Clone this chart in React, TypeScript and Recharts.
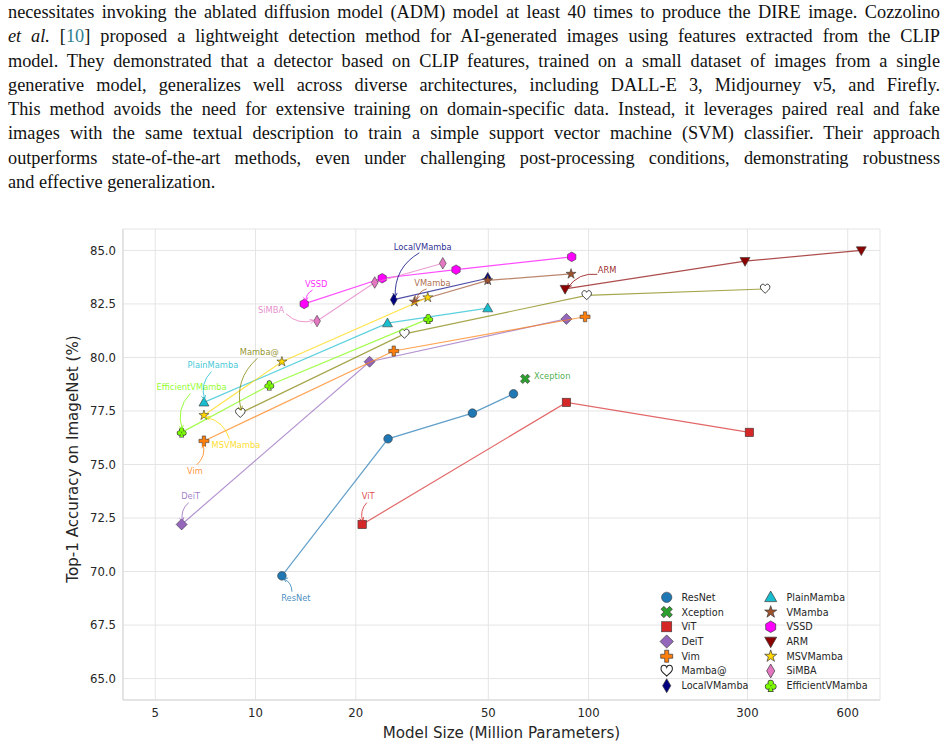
import { CartesianGrid, Label, Scatter, ScatterChart, XAxis, YAxis } from 'recharts'

const TEXT_LINES = [
  'necessitates invoking the ablated diffusion model (ADM) model at least 40 times to produce the DIRE image. Cozzolino',
  '@@ proposed a lightweight detection method for AI-generated images using features extracted from the CLIP',
  'model. They demonstrated that a detector based on CLIP features, trained on a small dataset of images from a single',
  'generative model, generalizes well across diverse architectures, including DALL-E 3, Midjourney v5, and Firefly.',
  'This method avoids the need for extensive training on domain-specific data. Instead, it leverages paired real and fake',
  'images with the same textual description to train a simple support vector machine (SVM) classifier. Their approach',
  'outperforms state-of-the-art methods, even under challenging post-processing conditions, demonstrating robustness',
  'and effective generalization.',
]

const X_TICKS = [5, 10, 20, 50, 100, 300, 600]
const Y_TICKS = [65, 67.5, 70, 72.5, 75, 77.5, 80, 82.5, 85]

// model size (M params) / top-1 accuracy (%)
const resnetSize = [12.0, 25.0, 44.8, 59.5]
const resnetAcc = [69.8, 76.2, 77.4, 78.3]
const xceptionSize = [64.5]
const xceptionAcc = [79.0]
const vitSize = [20.9, 85.8, 304]
const vitAcc = [72.2, 77.9, 76.5]
const deitSize = [6.0, 22.0, 85.8]
const deitAcc = [72.2, 79.8, 81.8]
const vimSize = [7.0, 26.0, 97.6]
const vimAcc = [76.1, 80.3, 81.9]
const mambaAtSize = [9.0, 28.0, 98.7, 339]
const mambaAtAcc = [77.4, 81.1, 82.9, 83.2]
const localVMambaSize = [26.0, 49.8]
const localVMambaAcc = [82.7, 83.7]
const plainMambaSize = [7.0, 24.9, 49.8]
const plainMambaAcc = [77.9, 81.6, 82.3]
const vmambaSize = [30.0, 49.8, 88.6]
const vmambaAcc = [82.6, 83.6, 83.9]
const vssdSize = [14.0, 24.0, 40.0, 89.0]
const vssdAcc = [82.5, 83.7, 84.1, 84.7]
const armSize = [85.0, 295, 659]
const armAcc = [83.2, 84.5, 85.0]
const msvMambaSize = [7.0, 12.0, 32.9]
const msvMambaAcc = [77.3, 79.8, 82.8]
const simbaSize = [15.3, 22.8, 36.5]
const simbaAcc = [81.7, 83.5, 84.4]
const effVMambaSize = [6.0, 11.0, 33.0]
const effVMambaAcc = [76.5, 78.7, 81.8]

type Kind = 'circle' | 'x' | 'square' | 'diamond' | 'plus' | 'heart' | 'thin' | 'tri' | 'star' | 'hex' | 'trid' | 'club'

const SERIES: { name: string; sizes: number[]; accs: number[]; color: string; kind: Kind; fill?: string; line: boolean }[] = [
  { name: 'ResNet', sizes: resnetSize, accs: resnetAcc, color: '#1f77b4', kind: 'circle', line: true },
  { name: 'Xception', sizes: xceptionSize, accs: xceptionAcc, color: '#2ca02c', kind: 'x', line: false },
  { name: 'ViT', sizes: vitSize, accs: vitAcc, color: '#d62728', kind: 'square', line: true },
  { name: 'DeiT', sizes: deitSize, accs: deitAcc, color: '#9467bd', kind: 'diamond', line: true },
  { name: 'Vim', sizes: vimSize, accs: vimAcc, color: '#ff7f0e', kind: 'plus', line: true },
  { name: 'Mamba@', sizes: mambaAtSize, accs: mambaAtAcc, color: '#808000', kind: 'heart', fill: '#ffffff', line: true },
  { name: 'LocalVMamba', sizes: localVMambaSize, accs: localVMambaAcc, color: '#000080', kind: 'thin', line: true },
  { name: 'PlainMamba', sizes: plainMambaSize, accs: plainMambaAcc, color: '#17becf', kind: 'tri', line: true },
  { name: 'VMamba', sizes: vmambaSize, accs: vmambaAcc, color: '#a0522d', kind: 'star', line: true },
  { name: 'VSSD', sizes: vssdSize, accs: vssdAcc, color: '#ff00ff', kind: 'hex', line: true },
  { name: 'ARM', sizes: armSize, accs: armAcc, color: '#8b0000', kind: 'trid', line: true },
  { name: 'MSVMamba', sizes: msvMambaSize, accs: msvMambaAcc, color: '#ffd700', kind: 'star', line: true },
  { name: 'SiMBA', sizes: simbaSize, accs: simbaAcc, color: '#e377c2', kind: 'thin', line: true },
  { name: 'EfficientVMamba', sizes: effVMambaSize, accs: effVMambaAcc, color: '#7cfc00', kind: 'club', line: true },
]

// label offset from the first point of each series, in pixels
const ANNOTATIONS: { name: string; dx: number; dy: number; arrow: boolean }[] = [
  { name: 'ResNet', dx: 14, dy: 22, arrow: true },
  { name: 'Xception', dx: 27, dy: -3, arrow: false },
  { name: 'ViT', dx: 6, dy: -28, arrow: true },
  { name: 'DeiT', dx: 9, dy: -28, arrow: true },
  { name: 'Vim', dx: -9, dy: 30, arrow: true },
  { name: 'Mamba@', dx: 19, dy: -61, arrow: true },
  { name: 'LocalVMamba', dx: 29, dy: -53, arrow: true },
  { name: 'PlainMamba', dx: 9, dy: -37, arrow: true },
  { name: 'VMamba', dx: 18, dy: -19, arrow: true },
  { name: 'VSSD', dx: 12, dy: -20, arrow: true },
  { name: 'ARM', dx: 42, dy: -19, arrow: true },
  { name: 'MSVMamba', dx: 32, dy: 30, arrow: true },
  { name: 'SiMBA', dx: -46, dy: -11, arrow: true },
  { name: 'EfficientVMamba', dx: 10, dy: -45, arrow: true },
]

const FONT = 'DejaVu Sans, Verdana, sans-serif'
const EDGE = '#3a3a3a'

function starPath(r: number) {
  const pts: string[] = []
  for (let i = 0; i < 10; i++) {
    const rr = i % 2 === 0 ? r : r * 0.382
    const a = -Math.PI / 2 + (i * Math.PI) / 5
    pts.push(`${(rr * Math.cos(a)).toFixed(2)},${(rr * Math.sin(a)).toFixed(2)}`)
  }
  return 'M' + pts.join('L') + 'Z'
}

function polyPath(n: number, r: number, rot: number) {
  const pts: string[] = []
  for (let i = 0; i < n; i++) {
    const a = rot + (i * 2 * Math.PI) / n
    pts.push(`${(r * Math.cos(a)).toFixed(2)},${(r * Math.sin(a)).toFixed(2)}`)
  }
  return 'M' + pts.join('L') + 'Z'
}

function plusPath(r: number) {
  const a = r / 3
  return `M${-a},${-r}L${a},${-r}L${a},${-a}L${r},${-a}L${r},${a}L${a},${a}L${a},${r}L${-a},${r}L${-a},${a}L${-r},${a}L${-r},${-a}L${-a},${-a}Z`
}

const HEART =
  'M0,4.5C-2,2.5 -5,0.6 -5,-1.8C-5,-3.8 -3.6,-5 -2.4,-5C-1.2,-5 -0.3,-4.2 0,-3.2C0.3,-4.2 1.2,-5 2.4,-5C3.6,-5 5,-3.8 5,-1.8C5,0.6 2,2.5 0,4.5Z'

function Marker({ kind, cx, cy, color, fill, s = 1 }: { kind: Kind; cx: number; cy: number; color: string; fill?: string; s?: number }) {
  const f = fill ?? color
  const common = { fill: f, stroke: EDGE, strokeWidth: 0.6 }
  const t = `translate(${cx},${cy}) scale(${s})`
  switch (kind) {
    case 'circle':
      return <circle cx={cx} cy={cy} r={4.3 * s} {...common} />
    case 'x':
      return <path d={plusPath(5)} transform={`${t} rotate(45)`} {...common} />
    case 'square':
      return <rect x={cx - 4.2 * s} y={cy - 4.2 * s} width={8.4 * s} height={8.4 * s} {...common} />
    case 'diamond':
      return <path d="M0,-5.5L5.5,0L0,5.5L-5.5,0Z" transform={t} {...common} />
    case 'plus':
      return <path d={plusPath(5)} transform={t} {...common} />
    case 'heart':
      return <path d={HEART} transform={`${t} scale(0.95)`} fill="#ffffff" stroke="#222" strokeWidth={0.9} />
    case 'thin':
      return <path d="M0,-5.8L3.4,0L0,5.8L-3.4,0Z" transform={t} {...common} />
    case 'tri':
      return <path d="M0,-5.2L5,3.6L-5,3.6Z" transform={t} {...common} />
    case 'trid':
      return <path d="M0,5.2L5,-3.6L-5,-3.6Z" transform={t} {...common} />
    case 'star':
      return <path d={starPath(5.3)} transform={t} {...common} />
    case 'hex':
      return <path d={polyPath(6, 4.8, -Math.PI / 2)} transform={t} {...common} />
    case 'club':
      return (
        <g transform={t}>
          <g fill={EDGE} stroke={EDGE} strokeWidth={1.2}>
            <circle cx={0} cy={-2.4} r={2} />
            <circle cx={-2.3} cy={0.7} r={2} />
            <circle cx={2.3} cy={0.7} r={2} />
            <path d="M0,-0.5L1.7,4.6L-1.7,4.6Z" />
          </g>
          <g fill={f}>
            <circle cx={0} cy={-2.4} r={2} />
            <circle cx={-2.3} cy={0.7} r={2} />
            <circle cx={2.3} cy={0.7} r={2} />
            <path d="M0,-0.5L1.7,4.6L-1.7,4.6Z" />
          </g>
        </g>
      )
  }
  return null
}

const ANN_FONT = 8.3

function Annotation({ cx, cy, dx, dy, text, color, arrow }: { cx: number; cy: number; dx: number; dy: number; text: string; color: string; arrow: boolean }) {
  const lx = cx + dx
  const ly = cy + dy
  let arrowEl = null
  if (arrow) {
    const hw = text.length * 0.31 * ANN_FONT + 2
    const hh = 0.62 * ANN_FONT + 1
    const vx = cx - lx
    const vy = cy - ly
    const tt = Math.min(hw / Math.max(Math.abs(vx), 1e-6), hh / Math.max(Math.abs(vy), 1e-6))
    const sx = lx + vx * tt
    const sy = ly + vy * tt
    const len = Math.hypot(cx - sx, cy - sy)
    const ux = (cx - sx) / len
    const uy = (cy - sy) / len
    const ex = cx - ux * 3
    const ey = cy - uy * 3
    const rad = 0.3
    const mx = (sx + ex) / 2
    const my = (sy + ey) / 2
    const ccx = mx - rad * (ey - sy)
    const ccy = my + rad * (ex - sx)
    const tlen = Math.hypot(ex - ccx, ey - ccy)
    const tx = (ex - ccx) / tlen
    const ty = (ey - ccy) / tlen
    const hl = 4
    const hwid = 2.2
    arrowEl = (
      <g stroke={color} strokeWidth={0.9} fill="none" strokeOpacity={0.85}>
        <path d={`M${sx},${sy}Q${ccx},${ccy} ${ex},${ey}`} />
        <path d={`M${ex - tx * hl - ty * hwid},${ey - ty * hl + tx * hwid}L${ex},${ey}L${ex - tx * hl + ty * hwid},${ey - ty * hl - tx * hwid}`} />
      </g>
    )
  }
  return (
    <g>
      {arrowEl}
      <text x={lx} y={ly} textAnchor="middle" dominantBaseline="central" fontSize={ANN_FONT} fontFamily={FONT} fill={color} fillOpacity={0.85}>
        {text}
      </text>
    </g>
  )
}

const LEGEND_LEFT = [SERIES[0], SERIES[1], SERIES[2], SERIES[3], SERIES[4], SERIES[5], SERIES[6]]
const LEGEND_RIGHT = [SERIES[7], SERIES[8], SERIES[9], SERIES[10], SERIES[11], SERIES[12], SERIES[13]]

function ChartLegend() {
  const top = 597.3
  const step = 14.73
  const cols = [
    { items: LEGEND_LEFT, mx: 666.7, tx: 681.5 },
    { items: LEGEND_RIGHT, mx: 770.7, tx: 786.5 },
  ]
  return (
    <svg width={947} height={748} style={{ position: 'absolute', left: 0, top: 0, pointerEvents: 'none' }}>
      {cols.map((c) =>
        c.items.map((s, i) => (
          <g key={s.name}>
            <Marker kind={s.kind} cx={c.mx} cy={top + i * step} color={s.color} fill={s.fill} s={1.2} />
            <text x={c.tx} y={top + i * step} dominantBaseline="central" fontSize={9.6} fontFamily={FONT} fill="#262626">
              {s.name}
            </text>
          </g>
        )),
      )}
    </svg>
  )
}

function Paragraph() {
  return (
    <div
      style={{
        position: 'absolute',
        left: 8,
        top: 0,
        width: 932,
        fontFamily: '"Liberation Serif", "Times New Roman", serif',
        fontSize: 18.3,
        lineHeight: '24.3px',
        color: '#111',
      }}
    >
      {TEXT_LINES.map((line, i) => (
        <div
          key={i}
          style={{
            whiteSpace: 'nowrap',
            textAlign: 'justify',
            textAlignLast: i === TEXT_LINES.length - 1 ? 'left' : 'justify',
          }}
        >
          {line.startsWith('@@') ? (
            <>
              <i>et al.</i> [<span style={{ color: '#2f7f8f' }}>10</span>]{line.slice(2)}
            </>
          ) : (
            line
          )}
        </div>
      ))}
    </div>
  )
}

export default function App() {
  const byName = (n: string) => SERIES.find((s) => s.name === n)!
  return (
    <div style={{ position: 'absolute', left: 0, top: 0, width: 947, height: 748, background: '#fff', overflow: 'hidden' }}>
      <Paragraph />
      <div style={{ position: 'absolute', left: 0, top: 0 }}>
        <ScatterChart width={947} height={748} margin={{ top: 229, right: 67, bottom: 0, left: 0 }}>
          <CartesianGrid stroke="#e5e5e5" strokeWidth={1} />
          <XAxis
            type="number"
            dataKey="x"
            scale="log"
            domain={[4, 750]}
            allowDataOverflow
            ticks={X_TICKS}
            height={48}
            tickLine={false}
            tickSize={6}
            tickMargin={2.5}
            axisLine={{ stroke: '#d6d6d6' }}
            tick={{ fontSize: 11.7, fill: '#262626', fontFamily: FONT }}
          >
            <Label
              content={({ viewBox }: any) => (
                <text x={viewBox.x + viewBox.width / 2} y={733} textAnchor="middle" dominantBaseline="central" fontSize={15.1} fontFamily={FONT} fill="#262626">
                  Model Size (Million Parameters)
                </text>
              )}
            />
          </XAxis>
          <YAxis
            type="number"
            dataKey="y"
            domain={[64, 86]}
            allowDataOverflow
            ticks={Y_TICKS}
            width={123}
            tickLine={false}
            tickSize={5}
            tickMargin={2}
            tickFormatter={(v: number) => v.toFixed(1)}
            axisLine={{ stroke: '#d6d6d6' }}
            tick={{ fontSize: 11.7, fill: '#262626', fontFamily: FONT }}
          >
            <Label
              content={() => (
                <text x={73} y={459} transform="rotate(-90, 73, 459)" textAnchor="middle" dominantBaseline="central" fontSize={15.1} fontFamily={FONT} fill="#262626">
                  Top-1 Accuracy on ImageNet (%)
                </text>
              )}
            />
          </YAxis>
          {SERIES.map((s) => (
            <Scatter
              key={s.name}
              name={s.name}
              data={s.sizes.map((x, i) => ({ x, y: s.accs[i] }))}
              fill={s.color}
              line={s.line ? { stroke: s.color, strokeWidth: 1.2, strokeOpacity: 0.7 } : false}
              isAnimationActive={false}
              shape={(p: any) => <Marker kind={s.kind} cx={p.cx} cy={p.cy} color={s.color} fill={s.fill} />}
            />
          ))}
          {ANNOTATIONS.map((a) => {
            const s = byName(a.name)
            return (
              <Scatter
                key={'ann-' + a.name}
                data={[{ x: s.sizes[0], y: s.accs[0] }]}
                isAnimationActive={false}
                shape={(p: any) => <Annotation cx={p.cx} cy={p.cy} dx={a.dx} dy={a.dy} text={a.name} color={s.color} arrow={a.arrow} />}
              />
            )
          })}
        </ScatterChart>
      </div>
      <ChartLegend />
    </div>
  )
}
